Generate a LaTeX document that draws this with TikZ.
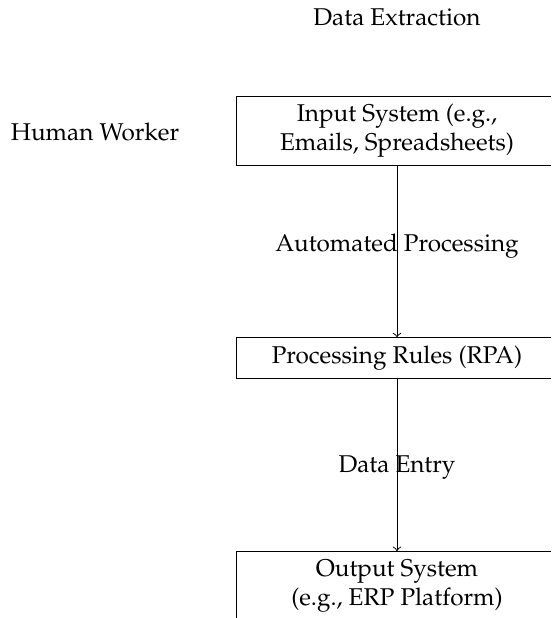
\documentclass[tikz,border=0pt]{standalone}
\usepackage[T1]{fontenc}
\usepackage{mathpazo}
\begin{document}
\begin{tikzpicture}[x=0.412pt, y=-0.412pt,
  stagebox/.style={draw, minimum width=131.9pt, align=center, font=\normalsize},
  flowlabel/.style={font=\normalsize},
  flowarrow/.style={->}]
  % canvas and clipping window
  \useasboundingbox (0,0) rectangle (551,618);
  \clip (0,0) rectangle (551,618);

  % headings
  \node[flowlabel] (title) at (397,17) {Data Extraction};
  \node[flowlabel] (worker) at (95,132) {Human Worker};

  % stages of the pipeline
  \node[stagebox] (input) at (397,131) {Input System (e.g.,\\Emails, Spreadsheets)};
  \node[stagebox] (rules) at (397,358) {Processing Rules (RPA)};
  \node[stagebox, anchor=north] (output) at (397,551) {Output System\\(e.g., ERP Platform)};

  % connectors
  \draw[flowarrow] (input.south) -- (rules.north);
  \draw[flowarrow] (rules.south) -- (output.north);

  % connector labels
  \node[flowlabel] (auto) at (397,246) {Automated Processing};
  \node[flowlabel] (entry) at (397,468) {Data Entry};
\end{tikzpicture}
\end{document}
